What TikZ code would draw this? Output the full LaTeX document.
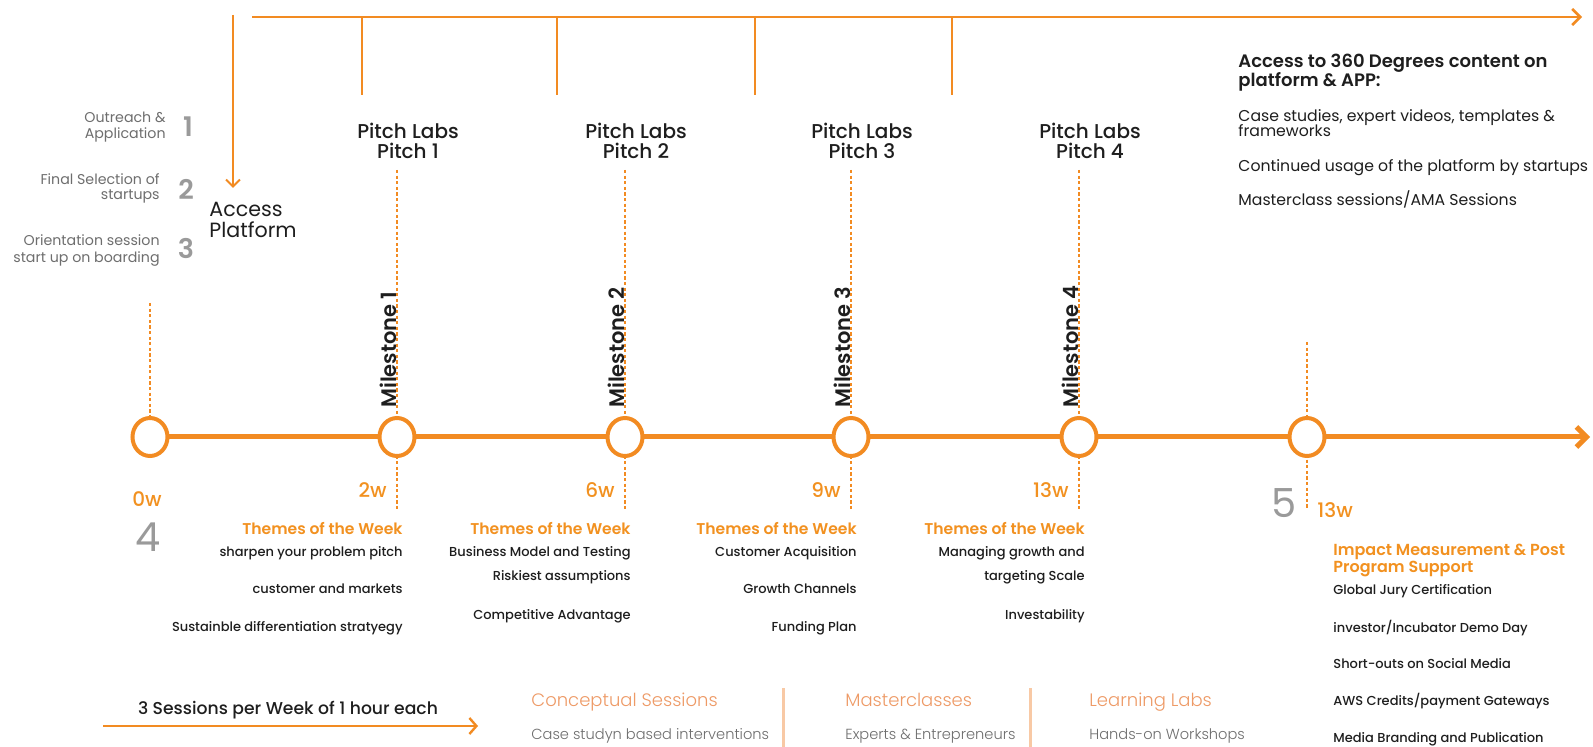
\documentclass[tikz,border=0pt]{standalone}
\usepackage{fontspec}
\setmainfont{Poppins}
\newfontfamily\preg{Poppins}
\newfontfamily\pmed{Poppins Medium}
\newfontfamily\psemi{Poppins SemiBold}
\newfontfamily\plight{Poppins Light}
\usetikzlibrary{arrows.meta,shapes.geometric}
\definecolor{org}{HTML}{F28B22}
\definecolor{orgtxt}{HTML}{F29120}
\definecolor{peach}{HTML}{EE9A66}
\definecolor{bar}{HTML}{F8C9A5}
\definecolor{numgray}{HTML}{9A9A9A}
\definecolor{txtgray}{HTML}{6E6E6E}
\definecolor{dark}{HTML}{1E1E1E}
\begin{document}
\begin{tikzpicture}[x=0.5pt,y=-0.5pt,
  mainline/.style={draw=org, line width=2.5pt},
  topline/.style={draw=org, line width=1.3pt},
  tick/.style={draw=org, line width=1.1pt},
  dotline/.style={draw=org, line width=0.7pt, dash pattern=on 1.6pt off 1.2pt},
  milec/.style={draw=org, line width=2pt, fill=white, ellipse, minimum width=17.5pt, minimum height=19pt, inner sep=0pt},
  pitch/.style={anchor=base, inner sep=0pt, text=dark, font={\pmed\fontsize{10}{12}\selectfont}},
  mile/.style={rotate=90, anchor=base west, text=dark, inner sep=0pt, font={\psemi\fontsize{10.5}{12}\selectfont}},
  week/.style={text=orgtxt, inner sep=0pt, font={\pmed\fontsize{10}{12}\selectfont}},
  bignum/.style={anchor=base, text=numgray, inner sep=0pt, font={\preg\fontsize{20}{22}\selectfont}},
  stepnum/.style={text=numgray, inner sep=0pt, font={\psemi\fontsize{13.5}{15}\selectfont}},
  steptxt/.style={text=txtgray, anchor=base east, inner sep=0pt, font={\preg\fontsize{7.1}{8}\selectfont}},
  theme/.style={text=orgtxt, anchor=base east, inner sep=0pt, font={\psemi\fontsize{7.8}{9}\selectfont}},
  item/.style={text=dark, anchor=base east, inner sep=0pt, font={\pmed\fontsize{6.5}{7.5}\selectfont}},
  ritem/.style={text=dark, anchor=base west, inner sep=0pt, font={\pmed\fontsize{6.5}{7.5}\selectfont}},
  toptxt/.style={text=dark, anchor=base west, inner sep=0pt, font={\preg\fontsize{7.85}{9}\selectfont}},
  tophead/.style={text=dark, anchor=base west, inner sep=0pt, font={\psemi\fontsize{9}{10}\selectfont}},
  imphead/.style={text=orgtxt, anchor=base west, inner sep=0pt, font={\psemi\fontsize{8}{9}\selectfont}},
  sess/.style={text=peach, anchor=base west, inner sep=0pt, font={\plight\fontsize{9}{10}\selectfont}},
  sesssub/.style={text=txtgray, anchor=base west, inner sep=0pt, font={\plight\fontsize{7.3}{8}\selectfont}},
  sep/.style={draw=bar, line width=1.5pt}
]
\useasboundingbox (0,0) rectangle (1593,747);
\fill[white] (0,0) rectangle (1593,747);

% top timeline
\coordinate (tl0) at (252,17);
\coordinate (tl1) at (1582,17);
\draw[topline, -{Straight Barb[length=4pt,width=8pt]}] (tl0) -- (tl1);
\foreach \x/\n in {362/a,557/b,755/c,952/d}{
  \coordinate (t\n0) at (\x,17);
  \coordinate (t\n1) at (\x,95);
  \draw[tick] (t\n0) -- (t\n1);
}
% access platform arrow
\coordinate (ap0) at (233,15);
\coordinate (ap1) at (233,188);
\draw[draw=org, line width=1pt, -{Straight Barb[length=3.5pt,width=7pt]}] (ap0) -- (ap1);
\node[anchor=base west, inner sep=0pt, text=dark, font={\preg\fontsize{10.3}{12}\selectfont}] (acc1) at (209,217) {Access};
\node[anchor=base west, inner sep=0pt, text=dark, font={\preg\fontsize{10.3}{12}\selectfont}] (acc2) at (209,238) {Platform};

% left steps
\node[steptxt] (s1a) at (166,123) {Outreach \&};
\node[steptxt] (s1b) at (166,139) {Application};
\node[stepnum] (n1) at (188,127) {1};
\node[steptxt] (s2a) at (160,185) {Final Selection of};
\node[steptxt] (s2b) at (160,200) {startups};
\node[stepnum] (n2) at (186,189) {2};
\node[steptxt] (s3a) at (160,246) {Orientation session};
\node[stepnum] (n3) at (186,249) {3};
\node[steptxt] (s3b) at (160,263) {start up on boarding};

% top right block
\node[tophead] (h1) at (1238,68) {Access to 360 Degrees content on};
\node[tophead] (h2) at (1238,87) {platform \& APP:};
\node[toptxt] (c1a) at (1238,122) {Case studies, expert videos, templates \&};
\node[toptxt] (c1b) at (1238,137) {frameworks};
\node[toptxt] (c2) at (1238,172) {Continued usage of the platform by startups};
\node[toptxt] (c3) at (1238,206) {Masterclass sessions/AMA Sessions};

% dotted guides
\coordinate (d0a) at (150,303);
\coordinate (d0b) at (150,437);
\draw[dotline] (d0a) -- (d0b);
\foreach \x/\k in {397/1,625/2,851/3,1079/4}{
  \coordinate (dm\k a) at (\x,170);
  \coordinate (dm\k b) at (\x,509);
  \draw[dotline] (dm\k a) -- (dm\k b);
}
\coordinate (d5a) at (1307,342);
\coordinate (d5b) at (1307,509);
\draw[dotline] (d5a) -- (d5b);

% main line
\coordinate (mstart) at (150,437);
\coordinate (mend) at (1590,437);
\draw[mainline, -{Straight Barb[length=5pt,width=10pt]}] (mstart) -- (mend);

\node[milec] (c0) at (150,437) {};
\node[milec] (m1) at (397,437) {};
\node[milec] (m2) at (625,437) {};
\node[milec] (m3) at (851,437) {};
\node[milec] (m4) at (1079,437) {};
\node[milec] (c5) at (1307,437) {};

% pitch labels and milestones
\foreach \x/\k in {397/1,625/2,851/3,1079/4}{
  \node[pitch] (pa\k) at (\x+11,139) {Pitch Labs};
  \node[pitch] (pb\k) at (\x+11,159) {Pitch \k};
  \node[mile] (ml\k) at (\x-1,408) {Milestone \k};
}

% weeks
\node[week, anchor=base] (w0) at (147,507) {0w};
\node[bignum] (num4) at (148,552) {4};
\node[week, anchor=base east] (w1) at (387,498) {2w};
\node[week, anchor=base east] (w2) at (615,498) {6w};
\node[week, anchor=base east] (w3) at (841,498) {9w};
\node[week, anchor=base east] (w4) at (1069,498) {13w};
\node[bignum] (num5) at (1284,517) {5};
\node[week, anchor=base west] (w5) at (1317,517) {13w};

% themes
\node[theme] (th1) at (403,535) {Themes of the Week};
\node[item] (i11) at (403,557) {sharpen your problem pitch};
\node[item] (i12) at (403,593) {customer and markets};
\node[item] (i13) at (403,631) {Sustainble differentiation stratyegy};

\node[theme] (th2) at (631,535) {Themes of the Week};
\node[item] (i21) at (631,557) {Business Model and Testing};
\node[item] (i22) at (631,581) {Riskiest assumptions};
\node[item] (i23) at (631,619) {Competitive Advantage};

\node[theme] (th3) at (857,535) {Themes of the Week};
\node[item] (i31) at (857,557) {Customer Acquisition};
\node[item] (i32) at (857,593) {Growth Channels};
\node[item] (i33) at (857,631) {Funding Plan};

\node[theme] (th4) at (1085,535) {Themes of the Week};
\node[item] (i41) at (1085,557) {Managing growth and};
\node[item] (i42) at (1085,581) {targeting Scale};
\node[item] (i43) at (1085,619) {Investability};

% right block
\node[imphead] (imp1) at (1333,555) {Impact Measurement \& Post};
\node[imphead] (imp2) at (1333,572) {Program Support};
\node[ritem] (r1) at (1333,594) {Global Jury Certification};
\node[ritem] (r2) at (1333,632) {investor/Incubator Demo Day};
\node[ritem] (r3) at (1333,668) {Short-outs on Social Media};
\node[ritem] (r4) at (1333,705) {AWS Credits/payment Gateways};
\node[ritem] (r5) at (1333,742) {Media Branding and Publication};

% bottom sessions
\node[anchor=base, text=dark, inner sep=0pt, font={\pmed\fontsize{8.6}{10}\selectfont}] (spw) at (288,714) {3 Sessions per Week of 1 hour each};
\coordinate (sa0) at (103,726);
\coordinate (sa1) at (478,726);
\draw[draw=org, line width=1.2pt, -{Straight Barb[length=3.5pt,width=8pt]}] (sa0) -- (sa1);

\node[sess] (cs) at (531,706) {Conceptual Sessions};
\node[sesssub] (css) at (531,739) {Case studyn based interventions};
\coordinate (b1a) at (783,688);
\coordinate (b1b) at (783,747);
\draw[sep] (b1a) -- (b1b);
\node[sess] (mc) at (845,706) {Masterclasses};
\node[sesssub] (mcs) at (845,739) {Experts \& Entrepreneurs};
\coordinate (b2a) at (1030,688);
\coordinate (b2b) at (1030,747);
\draw[sep] (b2a) -- (b2b);
\node[sess] (ll) at (1089,706) {Learning Labs};
\node[sesssub] (lls) at (1089,739) {Hands-on Workshops};
\end{tikzpicture}
\end{document}
